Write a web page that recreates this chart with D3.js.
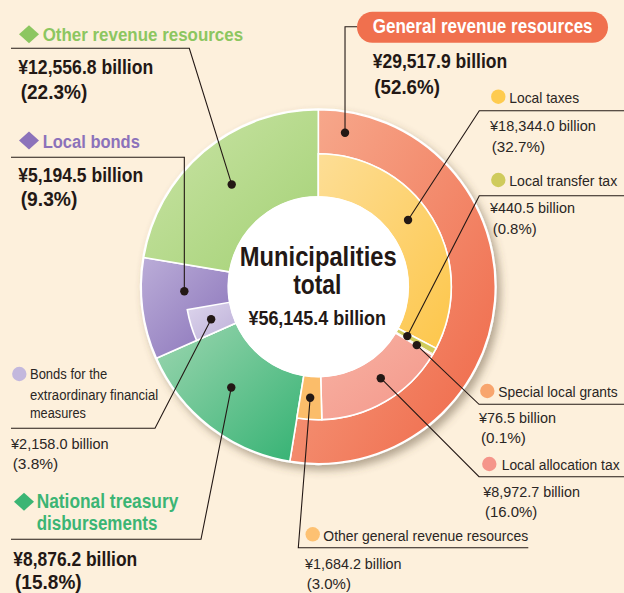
<!DOCTYPE html>
<html><head><meta charset="utf-8">
<script src="https://cdn.jsdelivr.net/npm/d3@7"></script>
<style>
html,body{margin:0;padding:0;background:#FDF0DC;}
svg{display:block;}
text{font-family:"Liberation Sans Narrow","Liberation Sans",Arial,sans-serif;}
</style></head><body>
<svg id="chart" width="624" height="593"></svg>
<script>
// ---------- DATA ----------
const totalLabel = "Municipalities total";
const totalValue = 56145.4;
const mainCategories = ["General revenue resources", "National treasury disbursements", "Local bonds", "Other revenue resources"];
const mainValues = [29517.9, 8876.2, 5194.5, 12556.8];
const mainShares = [52.6, 15.8, 9.3, 22.3];
const generalItems = ["Local taxes", "Local transfer tax", "Special local grants", "Local allocation tax", "Other general revenue resources"];
const generalValues = [18344.0, 440.5, 76.5, 8972.7, 1684.2];
const generalShares = [32.7, 0.8, 0.1, 16.0, 3.0];
const bondItems = ["Bonds for the extraordinary financial measures"];
const bondValues = [2158.0];
const bondShares = [3.8];

// ---------- LAYOUT / STYLE ----------
const W = 624, H = 593;
const cx = 318.3, cy = 286.7;
const R0 = 90, R1 = 133, R2 = 177;
const ink = "#231815", ink2 = "#2a2624";
const fmtV = v => "¥" + d3.format(",.1f")(v) + " billion";
const fmtP = p => "(" + d3.format(".1f")(p) + "%)";

const svg = d3.select("#chart");
svg.append("rect").attr("width", W).attr("height", H).attr("fill", "#FDF0DC");
const defs = svg.append("defs");
const flt = defs.append("filter").attr("id", "shadow").attr("x", "-20%").attr("y", "-20%").attr("width", "150%").attr("height", "150%");
flt.append("feDropShadow").attr("dx", 4).attr("dy", 5).attr("stdDeviation", 4.5)
  .attr("flood-color", "#5a4a30").attr("flood-opacity", 0.45);

let gid = 0;
function grad(c1, c2) {
  const id = "g" + (gid++);
  const g = defs.append("linearGradient").attr("id", id).attr("x1", 0).attr("y1", 0).attr("x2", 1).attr("y2", 1);
  g.append("stop").attr("offset", 0).attr("stop-color", c1);
  g.append("stop").attr("offset", 1).attr("stop-color", c2);
  return "url(#" + id + ")";
}

const mainFill = [grad("#F7AC90", "#EF6646"), grad("#9DD6B0", "#34B273"), grad("#BBADD8", "#8770B8"), grad("#CBE4A7", "#A3D174")];
const generalFill = [grad("#FDDE96", "#FDC64A"), "#CFCB5C", "#F8A56E", grad("#F8B2A3", "#F3978A"), "#FBBD6A"];
const bondFill = [grad("#DDD5EC", "#BDB0D9")];
const headColor = ["#F0704E", "#3BB574", "#8C72BA", "#8CC660"];
const dotColor = ["#FECB4F", "#CFCB5C", "#F8A56E", "#F5958A", "#FDC172"];
const bondDotColor = ["#C3B8DD"];

// ---------- ARCS ----------
const pie = d3.pie().sort(null).value(d => d);
const angle = d3.scaleLinear().domain([0, totalValue]).range([0, 2 * Math.PI]);
const mainArcs = pie(mainValues);
const genArcs = d3.pie().sort(null).value(d => d)
  .startAngle(mainArcs[0].startAngle).endAngle(mainArcs[0].endAngle)(generalValues);
const bondArcs = [];
{
  let a0 = mainArcs[2].startAngle;
  bondValues.forEach(v => { bondArcs.push({startAngle: a0, endAngle: a0 + angle(v), value: v}); a0 += angle(v); });
}

const g = svg.append("g").attr("transform", `translate(${cx},${cy})`);
g.append("circle").attr("r", R2 + 1.5).attr("fill", "#fff").attr("filter", "url(#shadow)");
const arc = (ri, ro) => d3.arc().innerRadius(ri).outerRadius(ro);

mainArcs.forEach((a, i) => {
  g.append("path").attr("d", arc(i === 0 ? R1 : R0, R2)(a))
    .attr("fill", mainFill[i]).attr("stroke", "#fff").attr("stroke-width", 1.6).attr("stroke-linejoin", "round");
});
genArcs.forEach((a, i) => {
  g.append("path").attr("d", arc(R0, R1)(a))
    .attr("fill", generalFill[i]).attr("stroke", "#fff").attr("stroke-width", i === 2 ? 0.6 : 1.6);
});
bondArcs.forEach((a, i) => {
  g.append("path").attr("d", arc(R0, R1)(a))
    .attr("fill", bondFill[i]).attr("stroke", "#fff").attr("stroke-width", 1.6);
});
g.append("circle").attr("r", R0 + 0.5).attr("fill", "#fff");

// ---------- TEXT HELPER (horizontal scale to target width) ----------
function T(x, y, s, size, o = {}) {
  const t = svg.append("text").attr("x", 0).attr("y", 0).attr("font-size", size)
    .attr("font-weight", o.bold ? "bold" : "normal").attr("fill", o.fill || ink).text(s);
  const nw = t.node().getComputedTextLength();
  const sx = o.w && nw > 0 ? o.w / nw : 1;
  let x0 = x;
  if (o.anchor === "middle") x0 = x - (o.w || nw) / 2;
  t.attr("transform", `translate(${x0},${y}) scale(${sx},1)`);
  return t;
}

// ---------- CENTER ----------
const tl = totalLabel.split(" ");
T(cx, 266, tl[0], 27, {bold: true, w: 157, anchor: "middle"});
T(cx - 1, 294.3, tl[1], 27, {bold: true, w: 48.3, anchor: "middle"});
T(cx - 1, 325, fmtV(totalValue), 21, {bold: true, w: 137.7, anchor: "middle"});

// ---------- DOTS & LEADERS ----------
function pointAt(a, frac, r) {
  const t = a.startAngle + (a.endAngle - a.startAngle) * frac;
  return [cx + r * Math.sin(t), cy - r * Math.cos(t)];
}
const line = d3.line();
function leader(pts, dot) {
  svg.append("path").attr("d", line(pts.concat([dot]))).attr("fill", "none")
    .attr("stroke", ink).attr("stroke-width", 1.1);
}
const dots = [];
function dotAt(p) { dots.push(p); }

function diamond(x, y, c, hw = 10, hh = 9) {
  svg.append("path").attr("d", `M${x - hw},${y}L${x},${y - hh}L${x + hw},${y}L${x},${y + hh}Z`).attr("fill", c);
}
function bullet(x, y, c) { svg.append("circle").attr("cx", x).attr("cy", y).attr("r", 7.2).attr("fill", c); }

// Main category labels
const mainLayout = [
  {dot: [0.052, 156.3]},
  {dot: [0.554, 133.2], dia: [24, 501.7], lines: [[36.7, 508.3, 141.7], [36.7, 530, 120.7]], title: 19.5,
   val: [13.3, 566, 124], pct: [15, 588.5, 66.7], lead: [[11, 539.3], [201, 539.3]]},
  {dot: [0.657, 134.05], dia: [29, 140.5], lines: [[42.7, 147.7, 97.3]], title: 18.5,
   val: [18.3, 181.7, 125], pct: [20.7, 206.3, 56.7], lead: [[11, 157.3]], vertical: true},
  {dot: [0.5, 134], dia: [29, 34.3], lines: [[42.7, 40.5, 200.6]], title: 18.5,
   val: [18.3, 74, 135], pct: [20.7, 99.3, 66.6], lead: [[11, 48.3], [189.3, 48.3]]}
];
const titleWords = [[mainCategories[0]], ["National treasury", "disbursements"], [mainCategories[2]], [mainCategories[3]]];

mainCategories.forEach((name, i) => {
  const L = mainLayout[i];
  const d = pointAt(mainArcs[i], L.dot[0], L.dot[1]);
  if (i === 0) {
    svg.append("rect").attr("x", 357).attr("y", 11.7).attr("width", 251).attr("height", 31).attr("rx", 15.5)
      .attr("fill", headColor[0]);
    T(372.7, 33.3, name, 19.5, {bold: true, fill: "#fff", w: 220});
    T(372.7, 68.3, fmtV(mainValues[i]), 19.5, {bold: true, w: 134.6});
    T(374.3, 94, fmtP(mainShares[i]), 19.5, {bold: true, w: 65.7});
    leader([[357, 26.7], [d[0], 26.7]], d);
  } else {
    diamond(L.dia[0], L.dia[1], headColor[i]);
    L.lines.forEach((ln, k) => T(ln[0], ln[1], titleWords[i][k], L.title, {bold: true, fill: headColor[i], w: ln[2]}));
    T(L.val[0], L.val[1], fmtV(mainValues[i]), 19.5, {bold: true, w: L.val[2]});
    T(L.pct[0], L.pct[1], fmtP(mainShares[i]), 19.5, {bold: true, w: L.pct[2]});
    const pts = L.vertical ? [L.lead[0], [d[0], L.lead[0][1]]] : L.lead;
    leader(pts, d);
  }
  dotAt(d);
});

// General revenue sub items
const genLayout = [
  {dot: [0.454, 111.8], b: [498.3, 96.7], n: [509.3, 102.7, 70], v: [490, 130.7, 106], p: [491.7, 151.7, 53.3], lead: [[624, 110.7], [479.3, 110.7]]},
  {dot: [0.5, 101.8], b: [498.3, 180], n: [509.3, 186, 108], v: [490, 213.3, 85], p: [492.7, 233.5, 44], lead: [[624, 195.7], [479.3, 195.7]]},
  {dot: [0.5, 114.5], b: [487.3, 391], n: [498.3, 396.7, 119.5], v: [479, 423.3, 77], p: [481, 443.3, 45], lead: [[624, 404.3], [479, 404.3]]},
  {dot: [0.43, 110.8], b: [489.3, 464], n: [501.7, 470, 118], v: [483.3, 497.3, 96.7], p: [485, 517.3, 52.3], lead: [[624, 476.7], [479, 476.7]]},
  {dot: [0.53, 111.3], b: [312.7, 534.3], n: [323.3, 540.7, 205], v: [305, 569.3, 96.7], p: [306.7, 589, 44.3], lead: [[528.3, 547.7], [298.3, 547.7]]}
];
generalItems.forEach((name, i) => {
  const L = genLayout[i];
  const d = pointAt(genArcs[i], L.dot[0], L.dot[1]);
  bullet(L.b[0], L.b[1], dotColor[i]);
  T(L.n[0], L.n[1], name, 15, {fill: ink2, w: L.n[2]});
  T(L.v[0], L.v[1], fmtV(generalValues[i]), 15, {fill: ink2, w: L.v[2]});
  T(L.p[0], L.p[1], fmtP(generalShares[i]), 15, {fill: ink2, w: L.p[2]});
  leader(L.lead, d);
  dotAt(d);
});

// Bonds sub item
const bondLayout = [{dot: [0.5, 112], b: [19.3, 374],
  lines: [["Bonds for the", 30, 379.3, 77.3], ["extraordinary financial", 30, 400, 128.3], ["measures", 30, 418.3, 56]],
  v: [11, 449.3, 97.7], p: [12.7, 469.3, 45.6], lead: [[11, 428.3], [155, 428.3]]}];
bondItems.forEach((name, i) => {
  const L = bondLayout[i];
  const d = pointAt(bondArcs[i], L.dot[0], L.dot[1]);
  bullet(L.b[0], L.b[1], bondDotColor[i]);
  L.lines.forEach(ln => T(ln[1], ln[2], ln[0], 14.5, {fill: ink2, w: ln[3]}));
  T(L.v[0], L.v[1], fmtV(bondValues[i]), 15, {fill: ink2, w: L.v[2]});
  T(L.p[0], L.p[1], fmtP(bondShares[i]), 15, {fill: ink2, w: L.p[2]});
  leader(L.lead, d);
  dotAt(d);
});

svg.append("g").selectAll("circle").data(dots).join("circle")
  .attr("cx", d => d[0]).attr("cy", d => d[1]).attr("r", 4.2).attr("fill", ink);
</script>
</body></html>
